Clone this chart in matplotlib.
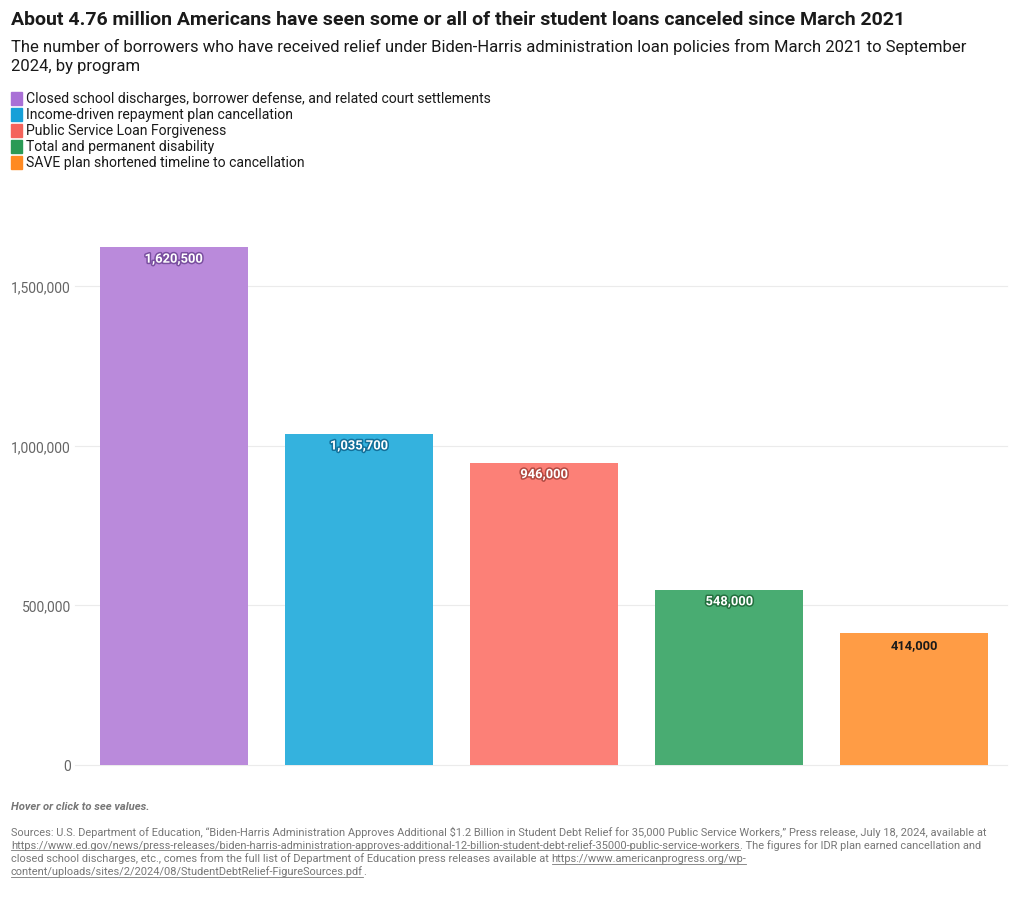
import matplotlib
matplotlib.use("Agg")
import matplotlib.pyplot as plt
import matplotlib.patheffects as pe
from matplotlib.ticker import FuncFormatter

plt.rcParams['font.family'] = ['Roboto', 'DejaVu Sans']

programs = [
    "Closed school discharges, borrower defense, and related court settlements",
    "Income-driven repayment plan cancellation",
    "Public Service Loan Forgiveness",
    "Total and permanent disability",
    "SAVE plan shortened timeline to cancellation",
]
borrowers = [1620500, 1035700, 946000, 548000, 414000]
bar_colors = ["#ba8adb", "#34b2de", "#fc8077", "#49ac72", "#ff9c45"]
key_colors = ["#a970d6", "#16a0d8", "#f4635b", "#2a9a55", "#ff8a22"]
shadow_colors = ["#7a4fa0", "#12709a", "#b24a42", "#24703f", None]
label_dark = [False, False, False, False, True]
yticks = [0, 500000, 1000000, 1500000]

W, H = 1020, 903
fig = plt.figure(figsize=(W / 100, H / 100), dpi=100)

def px(x, y):
    return x / W, 1 - y / H

# plot area: y=0 at 766px, top (1.75M) at 207px
ax = fig.add_axes([81 / W, 1 - 766 / H, (1007 - 81) / W, (766 - 207) / H])
x = range(len(borrowers))
ax.bar(x, borrowers, width=0.8, color=bar_colors, zorder=2)
ax.set_xlim(-0.5, len(borrowers) - 0.5)
ax.set_ylim(0, 1750000)
ax.set_yticks(yticks)
ax.yaxis.set_major_formatter(FuncFormatter(lambda v, p: f"{int(v):,}"))
ax.tick_params(axis='y', length=0, pad=7.2, labelsize=10, labelcolor="#666666")
ax.set_xticks([])
for s in ax.spines.values():
    s.set_visible(False)
# gridlines run a little left of the first bar
for t in yticks:
    ax.plot([-0.53, len(borrowers) - 0.5], [t, t], color="#ebebeb", linewidth=0.8,
            zorder=0 if t else 1, clip_on=False)

for i, v in enumerate(borrowers):
    if label_dark[i]:
        ax.annotate(f"{v:,}", (i, v), xytext=(0, -8.5), textcoords="offset points",
                    ha="center", va="center", fontsize=9.3, fontweight="bold",
                    color="#1a1a1a")
    else:
        ax.annotate(f"{v:,}", (i, v), xytext=(0, -8.5), textcoords="offset points",
                    ha="center", va="center", fontsize=9.3, fontweight="bold",
                    color="white",
                    path_effects=[pe.withStroke(linewidth=2.2, foreground=shadow_colors[i])])

# title block
fig.text(*px(11, 20), "About 4.76 million Americans have seen some or all of their student loans canceled since March 2021",
         fontsize=14.0, fontweight="bold", color="#1a1a1a", va="center")
fig.text(*px(11, 47), "The number of borrowers who have received relief under Biden-Harris administration loan policies from March 2021 to September",
         fontsize=11.95, color="#1a1a1a", va="center")
fig.text(*px(11, 67), "2024, by program", fontsize=11.95, color="#1a1a1a", va="center")

# legend key
for i, name in enumerate(programs):
    yc = 99 + 16 * i
    fig.patches.append(plt.Rectangle(px(11, yc + 6.5), 11 / W, 13 / H,
                                     transform=fig.transFigure, color=key_colors[i]))
    fig.text(*px(26, yc), name, fontsize=10.05, color="#1a1a1a", va="center")

# footer
fig.text(*px(11, 807), "Hover or click to see values.", fontsize=8.1, fontweight="bold",
         fontstyle="italic", color="#777777", va="center")

source_lines = [
    [("Sources: U.S. Department of Education, \u201cBiden-Harris Administration Approves Additional $1.2 Billion in Student Debt Relief for 35,000 Public Service Workers,\u201d Press release, July 18, 2024, available at", False)],
    [("https://www.ed.gov/news/press-releases/biden-harris-administration-approves-additional-12-billion-student-debt-relief-35000-public-service-workers", True),
     (". The figures for IDR plan earned cancellation and", False)],
    [("closed school discharges, etc., comes from the full list of Department of Education press releases available at ", False),
     ("https://www.americanprogress.org/wp-", True)],
    [("content/uploads/sites/2/2024/08/StudentDebtRelief-FigureSources.pdf", True), (".", False)],
]
fig.canvas.draw()
renderer = fig.canvas.get_renderer()
for li, segs in enumerate(source_lines):
    yline = 832 + 13.3 * li
    xcur = 11
    for txt, link in segs:
        t = fig.text(*px(xcur, yline), txt, fontsize=7.95, color="#777777", va="center")
        bb = t.get_window_extent(renderer)
        if link:
            fig.add_artist(plt.Line2D([xcur / W, (xcur + bb.width) / W],
                                      [1 - (yline + 6) / H, 1 - (yline + 6) / H],
                                      transform=fig.transFigure, color="#777777", linewidth=0.6))
        xcur += bb.width

fig.savefig("out.png", dpi=100)
